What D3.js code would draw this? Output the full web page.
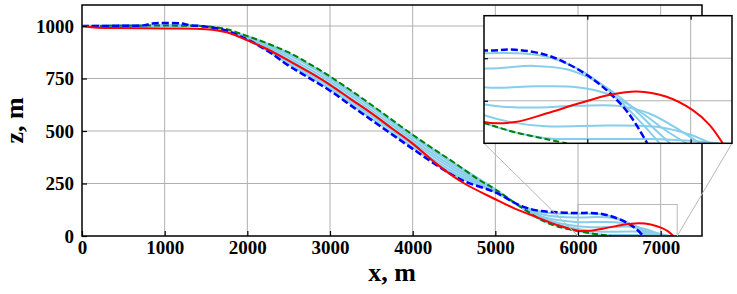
<!DOCTYPE html>
<html>
<head>
<meta charset="utf-8">
<script src="https://cdn.jsdelivr.net/npm/d3@7"></script>
<style>
  body { margin: 0; background: #fff; }
</style>
</head>
<body>
<svg width="737" height="294"></svg>
<script>
// tick values
const xTicks = [0, 1000, 2000, 3000, 4000, 5000, 6000, 7000]
const zTicks = [0, 250, 500, 750, 1000]
const insetXTicks = [6500, 7000]
const insetZTicks = [50, 100]

// [x, z] in metres
const green = [[0,1000],[500,1001],[1000,1002],[1500,998],[1750,985],[2000,952],[2250,916],[2500,874],[2750,820],[3000,760],[3250,694],[3500,625],[3750,553],[4000,482],[4250,415],[4500,350],[4800,268],[5000,222],[5300,140],[5600,68],[5800,40],[6000,24],[6150,13],[6300,5],[6400,0]]
const blue = [[0,1000],[500,1001],[750,1003],[850,1012],[1200,1012],[1300,1004],[1500,997],[1750,978],[2000,935],[2250,880],[2500,811],[2750,752],[3000,692],[3250,622],[3500,553],[3750,484],[4000,415],[4290,337],[4600,265],[5000,208],[5300,145],[5500,122],[5700,114],[6000,109],[6150,110],[6300,104],[6400,94],[6500,80],[6600,61],[6700,35],[6790,0]]
const red = [[0,1000],[150,993],[400,990],[1000,988],[1500,985],[1750,970],[2000,932],[2250,888],[2500,835],[2750,780],[3000,720],[3250,652],[3500,585],[3750,512],[4000,440],[4300,340],[4600,256],[5000,175],[5250,128],[5500,90],[5750,52],[6000,25],[6150,25],[6300,35],[6460,47],[6610,57],[6740,61],[6880,55],[7010,39],[7090,22],[7155,0]]
const sky1 = [[0,1000],[1000,1003],[1500,997],[2000,936],[2500,818],[3000,699],[3500,560],[4000,422],[4500,292],[5000,209],[5300,144],[5600,112],[6000,106],[6150,106],[6300,102],[6450,88],[6600,63],[6750,27],[6850,0]]
const sky2 = [[0,1000],[1000,1001],[1500,997],[2000,939],[2500,829],[3000,711],[3500,573],[4000,434],[4500,303],[5000,212],[5300,143],[5600,100],[6000,88],[6240,91],[6400,87],[6550,72],[6700,46],[6820,18],[6900,0]]
const sky3 = [[0,1000],[1000,1001],[1500,997],[2000,942],[2500,840],[3000,723],[3500,586],[4000,446],[4500,315],[5000,215],[5300,142],[5600,88],[6000,66],[6250,67],[6450,66],[6600,58],[6750,38],[6880,15],[6980,0]]
const sky4 = [[0,1000],[1000,1001],[1500,997],[2000,945],[2500,851],[3000,736],[3500,599],[4000,458],[4500,327],[5000,218],[5300,141],[5600,80],[6000,46],[6200,42],[6450,44],[6650,44],[6800,35],[6950,15],[7045,0]]
const sky5 = [[0,1000],[1000,1001],[1500,998],[2000,948],[2500,862],[3000,748],[3500,612],[4000,470],[4500,339],[5000,220],[5300,140],[5600,72],[6000,33],[6150,24],[6300,20],[6600,21],[6850,19],[7000,10],[7095,0]]
const sky6 = [[0,1000],[1000,1002],[1500,998],[2000,951],[2500,871],[3000,757],[3500,621],[4000,479],[4500,347],[5000,222],[5300,140],[5600,67],[6000,24],[6150,13],[6300,6],[6500,5],[6800,5],[7000,3],[7135,0]]
const skyLines = [sky1, sky2, sky3, sky4, sky5, sky6]

// zoomed window shown in the inset
const zoomX = [6000, 7200]
const zoomZ = [0, 150]

const serif = '"Liberation Serif", "Times New Roman", serif'

let svg = d3.select("svg")

let x = d3.scaleLinear().domain([0, 7500]).range([82, 702])
let z = d3.scaleLinear().domain([0, 1100]).range([236, 5])

let ix = d3.scaleLinear().domain(zoomX).range([484, 732])
let iz = d3.scaleLinear().domain(zoomZ).range([143.3, 15.7])

const gridColor = '#b0b0b0'

function drawGrid(g, sx, sz, xt, zt) {
  let [x0, x1] = sx.range(), [z0, z1] = sz.range()
  g.append("g").selectAll("line").data(xt).enter().append("line")
    .attr("x1", d => sx(d)).attr("x2", d => sx(d))
    .attr("y1", z0).attr("y2", z1)
    .attr("stroke", gridColor).attr("stroke-width", 1)
  g.append("g").selectAll("line").data(zt).enter().append("line")
    .attr("x1", x0).attr("x2", x1)
    .attr("y1", d => sz(d)).attr("y2", d => sz(d))
    .attr("stroke", gridColor).attr("stroke-width", 1)
}

function drawCurves(g, sx, sz) {
  let line = d3.line()
    .x(d => sx(d[0]))
    .y(d => sz(d[1]))
    .curve(d3.curveCatmullRom.alpha(0.5))
  skyLines.forEach(s => {
    g.append("path").attr("d", line(s))
      .attr("fill", "none").attr("stroke", "#87ceeb").attr("stroke-width", 2)
  })
  g.append("path").attr("d", line(green))
    .attr("fill", "none").attr("stroke", "#008000").attr("stroke-width", 2)
    .attr("stroke-dasharray", "6,3")
  g.append("path").attr("d", line(blue))
    .attr("fill", "none").attr("stroke", "#0000ff").attr("stroke-width", 2.5)
    .attr("stroke-dasharray", "7,3")
  g.append("path").attr("d", line(red))
    .attr("fill", "none").attr("stroke", "#ff0000").attr("stroke-width", 2)
}

function clipTo(id, sx, sz) {
  svg.append("clipPath").attr("id", id).append("rect")
    .attr("x", sx.range()[0]).attr("y", sz.range()[1])
    .attr("width", sx.range()[1] - sx.range()[0])
    .attr("height", sz.range()[0] - sz.range()[1])
}

// ---- main axes
clipTo("clipMain", x, z)
drawGrid(svg, x, z, xTicks.slice(1), zTicks.slice(1))

// rectangle marking the zoomed region
svg.append("rect")
  .attr("x", x(zoomX[0])).attr("y", z(zoomZ[1]))
  .attr("width", x(zoomX[1]) - x(zoomX[0]))
  .attr("height", z(zoomZ[0]) - z(zoomZ[1]))
  .attr("fill", "none").attr("stroke", "#b8b8b8").attr("stroke-width", 1)

drawCurves(svg.append("g").attr("clip-path", "url(#clipMain)"), x, z)

svg.append("g")
  .attr("transform", "translate(0,236)")
  .call(d3.axisBottom(x).tickValues(xTicks).tickFormat(d3.format("d"))
    .tickSizeInner(-5).tickSizeOuter(0).tickPadding(5))
  .call(g => g.select(".domain").remove())
svg.append("g")
  .attr("transform", "translate(82,0)")
  .call(d3.axisLeft(z).tickValues(zTicks).tickFormat(d3.format("d"))
    .tickSizeInner(-5).tickSizeOuter(0).tickPadding(8))
  .call(g => g.select(".domain").remove())
svg.selectAll(".tick line").attr("stroke", "#000").attr("stroke-width", 1.2)
svg.selectAll(".tick text").attr("fill", "#000")
  .style("font-family", serif).style("font-weight", "bold").style("font-size", "19px")

svg.append("rect")
  .attr("x", 82).attr("y", 5).attr("width", 620).attr("height", 231)
  .attr("fill", "none").attr("stroke", "#000").attr("stroke-width", 1.5)

svg.append("text").attr("x", 392).attr("y", 281)
  .attr("text-anchor", "middle")
  .style("font-family", serif).style("font-weight", "bold").style("font-size", "26px")
  .text("x, m")
svg.append("text")
  .attr("transform", "translate(23,120.5) rotate(-90)")
  .attr("text-anchor", "middle")
  .style("font-family", serif).style("font-weight", "bold").style("font-size", "26px")
  .text("z, m")

// connector lines from the inset to the marked region
svg.append("line")
  .attr("x1", ix.range()[0]).attr("y1", iz.range()[0])
  .attr("x2", x(zoomX[0])).attr("y2", z(zoomZ[0]))
  .attr("stroke", "#b8b8b8").attr("stroke-width", 1)
svg.append("line")
  .attr("x1", ix.range()[1]).attr("y1", iz.range()[0])
  .attr("x2", x(zoomX[1])).attr("y2", z(zoomZ[0]))
  .attr("stroke", "#b8b8b8").attr("stroke-width", 1)

// ---- inset
let inset = svg.append("g")
inset.append("rect")
  .attr("x", 484).attr("y", 15.7).attr("width", 248).attr("height", 127.6)
  .attr("fill", "#fff")
clipTo("clipInset", ix, iz)
drawGrid(inset, ix, iz, insetXTicks, insetZTicks)
drawCurves(inset.append("g").attr("clip-path", "url(#clipInset)"), ix, iz)

inset.append("g").attr("transform", "translate(0,143.3)")
  .call(d3.axisBottom(ix).tickValues(insetXTicks).tickSizeInner(-4).tickSizeOuter(0).tickFormat(""))
  .call(g => g.select(".domain").remove())
inset.append("g").attr("transform", "translate(0,15.7)")
  .call(d3.axisTop(ix).tickValues(insetXTicks).tickSizeInner(-4).tickSizeOuter(0).tickFormat(""))
  .call(g => g.select(".domain").remove())
inset.append("g").attr("transform", "translate(484,0)")
  .call(d3.axisLeft(iz).tickValues(insetZTicks).tickSizeInner(-4).tickSizeOuter(0).tickFormat(""))
  .call(g => g.select(".domain").remove())
inset.selectAll(".tick line").attr("stroke", "#000").attr("stroke-width", 1.2)

inset.append("rect")
  .attr("x", 484).attr("y", 15.7).attr("width", 248).attr("height", 127.6)
  .attr("fill", "none").attr("stroke", "#000").attr("stroke-width", 1.5)
</script>
</body>
</html>
